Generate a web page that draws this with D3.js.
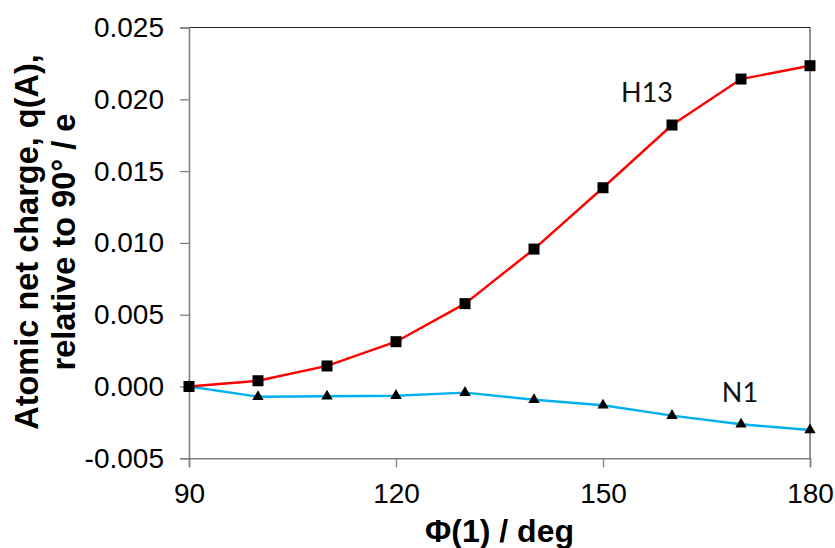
<!DOCTYPE html>
<html><head><meta charset="utf-8">
<script src="https://cdn.jsdelivr.net/npm/d3@7"></script>
<style>body{margin:0;background:#fff}svg{display:block}</style>
</head><body>
<script>
const angles = [90,100,110,120,130,140,150,160,170,180];
const h13 = [0,0.0004,0.00143,0.00312,0.00577,0.00957,0.01384,0.01821,0.02141,0.02234];
const n1 = [0,-0.00071,-0.00068,-0.00064,-0.00043,-0.00092,-0.00131,-0.00203,-0.00263,-0.00303];
const xTicks = [90,120,150,180];
const yTicks = [-0.005,0,0.005,0.010,0.015,0.020,0.025];
const seriesLabels = ["H13","N1"];

const W=835,H=548;
const m={l:189,r:810,t:27.5,b:458.3};
const svg=d3.select("body").append("svg").attr("width",W).attr("height",H);
const x=d3.scaleLinear().domain([90,180]).range([m.l,m.r]);
const y=d3.scaleLinear().domain([-0.005,0.025]).range([m.b,m.t]);

// box top/right
svg.append("line").attr("x1",m.l).attr("x2",m.r).attr("y1",m.t).attr("y2",m.t).attr("stroke","#222").attr("stroke-width",1);
svg.append("line").attr("x1",m.r).attr("x2",m.r).attr("y1",m.t).attr("y2",m.b).attr("stroke","#222").attr("stroke-width",1);

const tickFont="'Liberation Sans',Arial,sans-serif";
const yAx=svg.append("g").attr("transform",`translate(${m.l},0)`)
  .call(d3.axisLeft(y).tickValues(yTicks).tickFormat(d3.format(".3f")).tickSizeOuter(0).tickSize(9).tickPadding(16));
const xAx=svg.append("g").attr("transform",`translate(0,${m.b})`)
  .call(d3.axisBottom(x).tickValues(xTicks).tickFormat(d=>d).tickSizeOuter(0).tickSize(9).tickPadding(15.5));
[yAx,xAx].forEach(g=>{
  g.select(".domain").attr("stroke","#808080").attr("stroke-width",1.6);
  g.selectAll(".tick line").attr("stroke","#808080").attr("stroke-width",1.3);
  g.selectAll(".tick text").attr("font-family",tickFont).attr("font-size",28).attr("fill","#000");
});
yAx.selectAll(".tick text").text(d=>d3.format(".3f")(d).replace("−","-"));

const line=d3.line().x((d,i)=>x(angles[i])).y(d=>y(d));
svg.append("path").datum(n1).attr("d",line).attr("fill","none").attr("stroke","#00b0f0").attr("stroke-width",2.4);
svg.append("path").datum(h13).attr("d",line).attr("fill","none").attr("stroke","#ff0000").attr("stroke-width",2.4);

const sq=11;
svg.append("g").selectAll("rect").data(h13).join("rect")
  .attr("x",(d,i)=>x(angles[i])-sq/2).attr("y",d=>y(d)-sq/2).attr("width",sq).attr("height",sq).attr("fill","#000");
const tri=d3.symbol().type(d3.symbolTriangle).size(56);
svg.append("g").selectAll("path").data(n1).join("path")
  .attr("d",tri).attr("transform",(d,i)=>`translate(${x(angles[i])},${y(d)})`).attr("fill","#000");

const lblFont="Lato,'Open Sans',sans-serif";
svg.append("text").attr("x",647).attr("y",102).attr("text-anchor","middle").attr("font-family",lblFont).attr("font-size",27).attr("fill","#111").text(seriesLabels[0]);
svg.append("text").attr("x",740).attr("y",402).attr("text-anchor","middle").attr("font-family",lblFont).attr("font-size",27).attr("fill","#111").text(seriesLabels[1]);

svg.append("text").attr("x",499.5).attr("y",542).attr("text-anchor","middle").attr("font-family",tickFont).attr("font-weight","bold").attr("font-size",32).text("Φ(1) / deg");
const yt=svg.append("text").attr("transform","translate(0,242) rotate(-90)").attr("text-anchor","middle").attr("font-family",tickFont).attr("font-weight","bold").attr("font-size",32.5);
yt.append("tspan").attr("x",0).attr("y",38).text("Atomic net charge, q(A),");
yt.append("tspan").attr("x",0).attr("y",75).text("relative to 90° / e");
</script>
</body></html>
